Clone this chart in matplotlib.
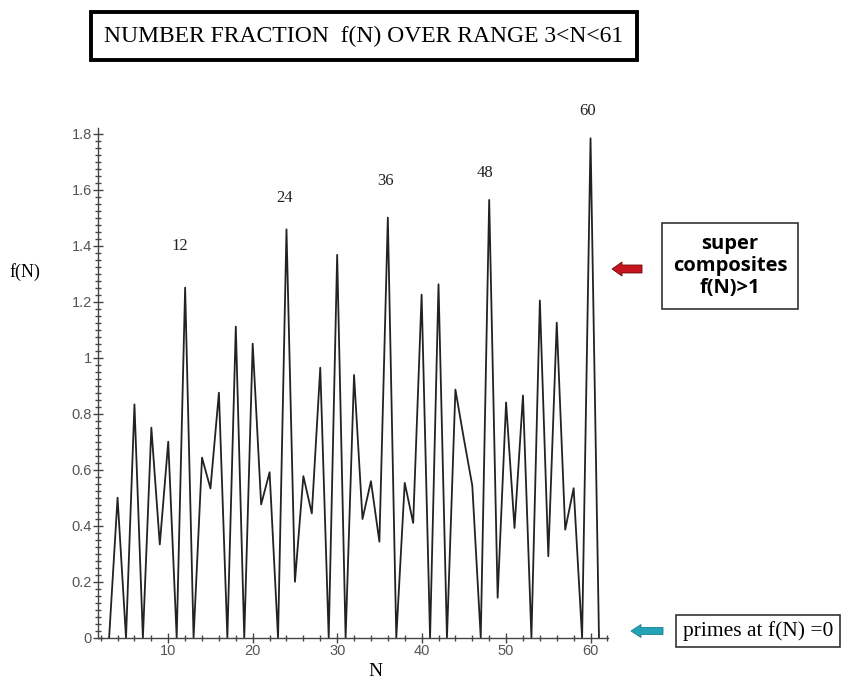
#!/usr/bin/env python3
"""
Number fraction f(N) over range 3<N<61, with peaks at the super composites.
"""

import matplotlib
matplotlib.use('Agg')
import matplotlib.pyplot as plt
from matplotlib.ticker import MultipleLocator, FuncFormatter

# values
n_values = list(range(3, 62))
f_values = [0.0, 0.5, 0.0, 0.833, 0.0, 0.75, 0.333, 0.7, 0.0, 1.25,
            0.0, 0.643, 0.533, 0.875, 0.0, 1.111, 0.0, 1.05, 0.476, 0.591,
            0.0, 1.458, 0.2, 0.577, 0.444, 0.964, 0.0, 1.367, 0.0, 0.938,
            0.424, 0.559, 0.343, 1.5, 0.0, 0.553, 0.41, 1.225, 0.0, 1.262,
            0.0, 0.886, 0.711, 0.543, 0.0, 1.563, 0.143, 0.84, 0.392, 0.865,
            0.0, 1.204, 0.291, 1.125, 0.386, 0.534, 0.0, 1.783, 0.0]
peak_labels = ['12', '24', '36', '48', '60']
peak_label_x = [11.4, 23.8, 35.7, 47.5, 59.7]
peak_label_y = [1.40, 1.57, 1.63, 1.66, 1.88]

SERIF = 'Liberation Serif'
SANS = 'Liberation Sans'

fig = plt.figure(figsize=(8.46, 6.88), dpi=100)
ax = fig.add_axes([0.116, 0.073, 0.603, 0.741])

ax.plot(n_values, f_values, color='#222222', lw=1.3)
ax.set_xlim(1.7, 62.1)
ax.set_ylim(0, 1.82)

for s in ['top', 'right']:
    ax.spines[s].set_visible(False)
for s in ['left', 'bottom']:
    ax.spines[s].set_color('#444444')
    ax.spines[s].set_linewidth(1.0)

ax.xaxis.set_major_locator(MultipleLocator(10))
ax.xaxis.set_minor_locator(MultipleLocator(2))
ax.yaxis.set_major_locator(MultipleLocator(0.2))
ax.yaxis.set_minor_locator(MultipleLocator(0.025))
ax.yaxis.set_major_formatter(FuncFormatter(lambda v, p: f'{v:g}'))
ax.tick_params(which='both', direction='inout', color='#444444', width=1.0)
ax.tick_params(which='major', length=7, labelsize=10.5, labelcolor='#555555', pad=1)
ax.tick_params(which='minor', length=5)
for lab in ax.get_xticklabels() + ax.get_yticklabels():
    lab.set_family(SANS)

for txt, x, y in zip(peak_labels, peak_label_x, peak_label_y):
    ax.text(x, y, txt, ha='center', va='center', fontsize=12,
            family=SERIF, color='#222222', clip_on=False)

fig.text(25 / 846, 1 - 272 / 688, 'f(N)', ha='center', va='center',
         fontsize=13, family=SERIF)
fig.text(375 / 846, 1 - 672 / 688, 'N', ha='center', va='center',
         fontsize=14, family=SERIF)

# title box
fig.text(364 / 846, 1 - 36 / 688, 'NUMBER FRACTION  f(N) OVER RANGE 3<N<61',
         ha='center', va='center', fontsize=17, family=SERIF,
         bbox=dict(boxstyle='square,pad=0.55', fc='white', ec='black', lw=2.8))

# super composites note
fig.text(730 / 846, 1 - 266 / 688, 'super\ncomposites\nf(N)>1',
         ha='center', va='center', fontsize=14.5, family='Open Sans',
         fontweight='bold', linespacing=1.1,
         bbox=dict(boxstyle='square,pad=0.55', fc='white', ec='#333333', lw=1.2))
fig.add_artist(matplotlib.patches.FancyArrow(
    642 / 846, 1 - 269 / 688, -30 / 846, 0, width=8 / 688,
    head_width=14 / 688, head_length=10 / 846, length_includes_head=True,
    transform=fig.transFigure, fc='#c8141e', ec='#6a0a0a', lw=0.6))

# primes note
fig.text(758 / 846, 1 - 631 / 688, 'primes at f(N) =0',
         ha='center', va='center', fontsize=15.5, family=SERIF,
         bbox=dict(boxstyle='square,pad=0.3', fc='white', ec='#333333', lw=1.2))
fig.add_artist(matplotlib.patches.FancyArrow(
    663 / 846, 1 - 631 / 688, -32 / 846, 0, width=7 / 688,
    head_width=13 / 688, head_length=10 / 846, length_includes_head=True,
    transform=fig.transFigure, fc='#23a3b5', ec='#1a7f8c', lw=0.6))

plt.savefig('out.png', dpi=100)
